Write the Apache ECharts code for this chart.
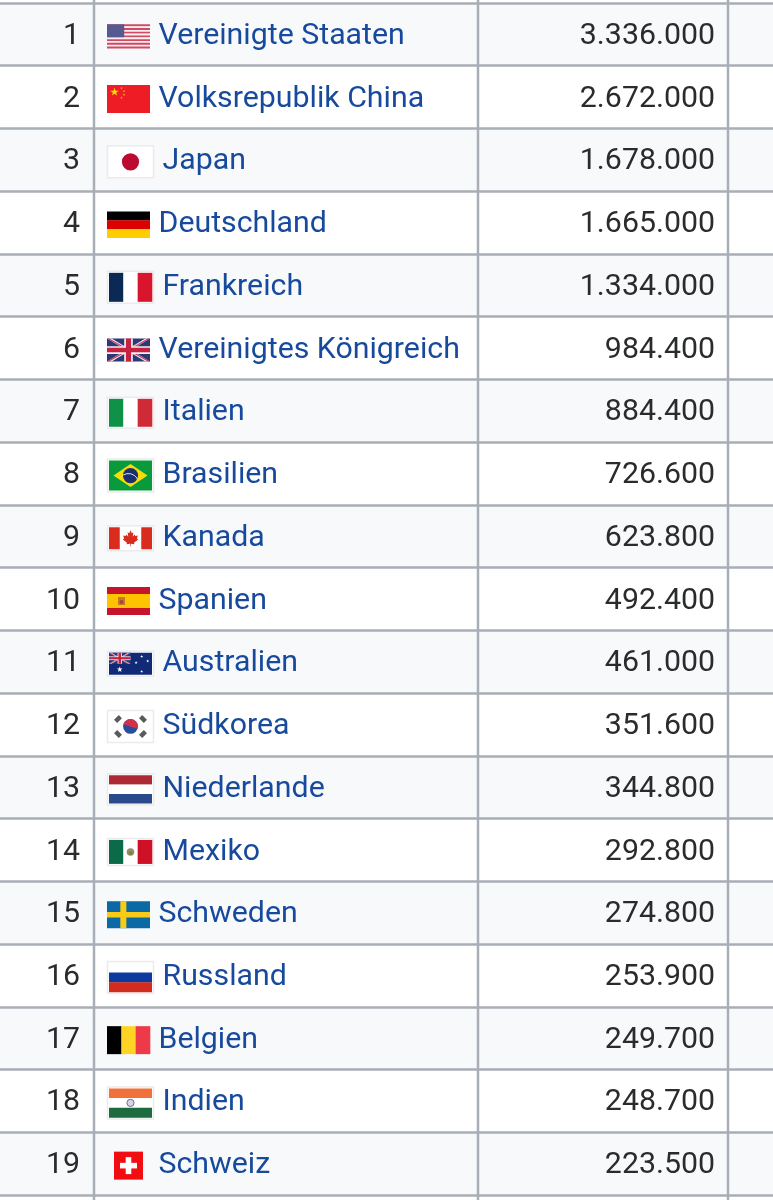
<!DOCTYPE html>
<html>
<head>
<meta charset="utf-8">
<title>BIP Tabelle</title>
<style>
    html, body { margin: 0; padding: 0; background: #fff; }
    #main { width: 773px; height: 1200px; }
</style>
<script src="https://cdn.jsdelivr.net/npm/echarts@6/dist/echarts.min.js"></script>
</head>
<body>
<div id="main"></div>
<script>
// table content
var ranks = [1, 2, 3, 4, 5, 6, 7, 8, 9, 10, 11, 12, 13, 14, 15, 16, 17, 18, 19];
var countries = ['Vereinigte Staaten', 'Volksrepublik China', 'Japan', 'Deutschland', 'Frankreich',
    'Vereinigtes Königreich', 'Italien', 'Brasilien', 'Kanada', 'Spanien', 'Australien', 'Südkorea',
    'Niederlande', 'Mexiko', 'Schweden', 'Russland', 'Belgien', 'Indien', 'Schweiz'];
var flagCodes = ['us', 'cn', 'jp', 'de', 'fr', 'gb', 'it', 'br', 'ca', 'es', 'au', 'kr', 'nl', 'mx', 'se', 'ru', 'be', 'in', 'ch'];
var gdpValues = [3336000, 2672000, 1678000, 1665000, 1334000, 984400, 884400, 726600, 623800, 492400,
    461000, 351600, 344800, 292800, 274800, 253900, 249700, 248700, 223500];

// column borders, on the x axis
var columnLines = [94, 478, 728];

// flag boxes: x, width, height, text x, light border
var flagBoxes = {
    us: [107, 43, 24, 158.5, false], cn: [107, 43, 28, 158.5, false], jp: [109, 43, 29, 162.5, true],
    de: [107, 43, 26, 158.5, false], fr: [109, 43, 29, 162.5, true], gb: [107, 43, 23, 158.5, false],
    it: [109, 43, 28, 162.5, true], br: [109, 43, 30, 162.5, true], ca: [109, 43, 22, 162.5, true],
    es: [107, 43, 28, 158.5, false], au: [109, 43, 22, 162.5, true], kr: [109, 43, 29, 162.5, true],
    nl: [109, 43, 28, 162.5, true], mx: [109, 43, 24, 162.5, true], se: [107, 43, 27, 158.5, false],
    ru: [109, 43, 29, 162.5, true], be: [107, 43, 28, 158.5, false], in: [109, 43, 29, 162.5, true],
    ch: [114, 29, 28, 158.5, false]
};

var FONT = 'Roboto, sans-serif';
var TEXT_SIZE = '30.3px ';
var TEXT_DY = 2;

function formatGerman(v) {
    return String(v).replace(/\B(?=(\d{3})+$)/g, '.');
}

function rect(x, y, w, h, color) {
    return { type: 'rect', shape: { x: x, y: y, width: w, height: h }, style: { fill: color } };
}
function poly(points, color) {
    return { type: 'polygon', shape: { points: points }, style: { fill: color } };
}
function circle(cx, cy, r, color) {
    return { type: 'circle', shape: { cx: cx, cy: cy, r: r }, style: { fill: color } };
}
function star(cx, cy, r, color) {
    var pts = [];
    for (var i = 0; i < 10; i++) {
        var a = -Math.PI / 2 + i * Math.PI / 5;
        var rr = i % 2 ? r * 0.4 : r;
        pts.push([cx + rr * Math.cos(a), cy + rr * Math.sin(a)]);
    }
    return poly(pts, color);
}
function hBands(x, y, w, h, colors) {
    return colors.map(function (c, i) {
        return rect(x, y + h * i / colors.length, w, h / colors.length + 0.3, c);
    });
}
function vBands(x, y, w, h, colors) {
    return colors.map(function (c, i) {
        return rect(x + w * i / colors.length, y, w / colors.length + 0.3, h, c);
    });
}
function unionJack(x, y, w, h) {
    var t = w * 0.11, s = w * 0.05;
    function diag(d, c) {
        return [
            poly([[x, y], [x + d, y], [x + w, y + h], [x + w - d, y + h]], c),
            poly([[x + w, y], [x + w - d, y], [x, y + h], [x + d, y + h]], c)
        ];
    }
    return [rect(x, y, w, h, '#2a3a78')]
        .concat(diag(t, '#f1e3e8'))
        .concat(diag(s, '#c8324f'))
        .concat([
            rect(x + w / 2 - w * 0.1, y, w * 0.2, h, '#f4eef0'),
            rect(x, y + h / 2 - h * 0.17, w, h * 0.34, '#f4eef0'),
            rect(x + w / 2 - w * 0.06, y, w * 0.12, h, '#c8213f'),
            rect(x, y + h / 2 - h * 0.1, w, h * 0.2, '#c8213f')
        ]);
}
// rough maple leaf, unit box
var mapleLeaf = [[0.5, 0], [0.58, 0.18], [0.68, 0.12], [0.64, 0.4], [0.76, 0.27], [0.8, 0.36], [0.96, 0.32],
    [0.9, 0.52], [0.98, 0.58], [0.72, 0.78], [0.75, 0.88], [0.52, 0.84], [0.52, 1], [0.48, 1], [0.48, 0.84],
    [0.25, 0.88], [0.28, 0.78], [0.02, 0.58], [0.1, 0.52], [0.04, 0.32], [0.2, 0.36], [0.24, 0.27], [0.36, 0.4],
    [0.32, 0.12], [0.42, 0.18]];

function flagShapes(code, x, y, w, h) {
    var cx = x + w / 2, cy = y + h / 2, out = [], i;
    switch (code) {
        case 'us':
            for (i = 0; i < 13; i++) {
                out.push(rect(x, y + h * i / 13, w, h / 13 + 0.2, i % 2 ? '#f6eef0' : '#cf4a62'));
            }
            out.push(rect(x, y, w * 0.4, h * 7 / 13, '#565a8f'));
            break;
        case 'cn':
            out.push(rect(x, y, w, h, '#ee1c25'));
            out.push(star(x + 7.5, y + 7, 4.3, '#ffde00'));
            out.push(star(x + 14.5, y + 3, 1.4, '#f7b21a'), star(x + 17, y + 6, 1.4, '#f7b21a'));
            out.push(star(x + 17, y + 9.5, 1.4, '#f7b21a'), star(x + 14.5, y + 12.5, 1.4, '#f7b21a'));
            break;
        case 'jp':
            out.push(rect(x, y, w, h, '#ffffff'), circle(cx, cy, 8.6, '#bc0b32'));
            break;
        case 'de':
            out = hBands(x, y, w, h, ['#000000', '#dd0000', '#ffce00']);
            break;
        case 'fr':
            out = vBands(x, y, w, h, ['#0a2a55', '#ffffff', '#d9152e']);
            break;
        case 'gb':
            out = unionJack(x, y, w, h);
            break;
        case 'it':
            out = vBands(x, y, w, h, ['#0f9248', '#ffffff', '#cf2b37']);
            break;
        case 'br':
            out.push(rect(x, y, w, h, '#099a3b'));
            out.push(poly([[x + 4.5, cy], [cx, y + 3.5], [x + w - 4.5, cy], [cx, y + h - 3.5]], '#f5dc0a'));
            out.push(circle(cx, cy, 7.6, '#1b2f6e'));
            out.push({ type: 'arc', shape: { cx: cx - 2, cy: cy + 8, r: 10, startAngle: -Math.PI * 0.8, endAngle: -Math.PI * 0.15 }, style: { stroke: '#d8dfe8', lineWidth: 1, fill: null } });
            break;
        case 'ca':
            out = [rect(x, y, w, h, '#ffffff'), rect(x, y, w * 0.25, h, '#d92b1e'), rect(x + w * 0.75, y, w * 0.25, h, '#d92b1e')];
            out.push(poly(mapleLeaf.map(function (p) {
                return [cx - 8 + p[0] * 16, y + 3 + p[1] * 16];
            }), '#d92b1e'));
            break;
        case 'es':
            out = [rect(x, y, w, h, '#ffc400'), rect(x, y, w, h * 0.25, '#c8142b'), rect(x, y + h * 0.75, w, h * 0.25, '#c8142b')];
            out.push(rect(x + 11, cy - 4, 7, 8, '#bf7a2a'), circle(x + 14.5, cy + 1, 2, '#b8412c'));
            break;
        case 'au':
            out.push(rect(x, y, w, h, '#102a78'));
            out = out.concat(unionJack(x, y, w * 0.5, h * 0.5));
            out.push(star(x + w * 0.25, y + h * 0.76, 3, '#ffffff'));
            out.push(star(x + w * 0.76, y + h * 0.17, 1.6, '#ffffff'), star(x + w * 0.76, y + h * 0.85, 1.6, '#ffffff'));
            out.push(star(x + w * 0.63, y + h * 0.45, 1.6, '#ffffff'), star(x + w * 0.9, y + h * 0.38, 1.6, '#ffffff'));
            break;
        case 'kr':
            out.push(rect(x, y, w, h, '#ffffff'));
            out.push(circle(cx, cy, 7.4, '#2a4d9b'));
            out.push({ type: 'sector', shape: { cx: cx, cy: cy, r: 7.4, r0: 0, startAngle: Math.PI * 1.1, endAngle: Math.PI * 2.1 }, style: { fill: '#d5304a' } });
            [[-12.5, -7.5, 1], [12.5, -7.5, -1], [-12.5, 7.5, -1], [12.5, 7.5, 1]].forEach(function (t) {
                out.push({ type: 'rect', x: cx + t[0], y: cy + t[1], originX: 0, originY: 0, rotation: -t[2] * Math.PI / 4 * -1,
                    shape: { x: -3.4, y: -2.2, width: 6.8, height: 4.4 }, style: { fill: '#5a5a5c' } });
            });
            break;
        case 'nl':
            out = hBands(x, y, w, h, ['#ad2a35', '#ffffff', '#2b4a8c']);
            break;
        case 'mx':
            out = vBands(x, y, w, h, ['#0b6a48', '#ffffff', '#ce1126']);
            out.push(circle(cx, cy, 3.8, '#9c8a62'), circle(cx, cy + 1, 1.8, '#5f8a58'));
            break;
        case 'se':
            out.push(rect(x, y, w, h, '#0b6aa6'));
            out.push(rect(x + w * 0.31, y, w * 0.14, h, '#f9cb16'), rect(x, cy - h * 0.1, w, h * 0.2, '#f9cb16'));
            break;
        case 'ru':
            out = hBands(x, y, w, h, ['#ffffff', '#0d3aa0', '#d22c20']);
            break;
        case 'be':
            out = vBands(x, y, w, h, ['#000000', '#fdd426', '#ee3a48']);
            break;
        case 'in':
            out = hBands(x, y, w, h, ['#f2703a', '#ffffff', '#1d6b3e']);
            out.push({ type: 'circle', shape: { cx: cx, cy: cy, r: 3.6 }, style: { fill: '#d5d6e4', stroke: '#6d6f9c', lineWidth: 1 } });
            break;
        case 'ch':
            out.push(rect(x, y, w, h, '#f20d12'));
            out.push(rect(cx - 2.8, cy - 8.5, 5.6, 17, '#ffffff'), rect(cx - 8.5, cy - 2.8, 17, 5.6, '#ffffff'));
            break;
    }
    return out;
}

function renderRow(params, api) {
    var i = api.value(0);
    var cy = api.coord([0, i])[1];
    var code = flagCodes[i];
    var box = flagBoxes[code];
    var fx = api.coord([box[0], i])[0];
    var fy = cy + 2 - box[2] / 2;
    var children = [];

    children.push({
        type: 'text',
        style: { text: String(ranks[i]), x: api.coord([80, i])[0], y: cy + TEXT_DY, align: 'right', verticalAlign: 'middle', font: TEXT_SIZE + FONT, fill: '#2a2b2d' }
    });
    if (box[4]) {
        children.push({ type: 'rect', shape: { x: fx - 1.5, y: fy - 1.5, width: box[1] + 3, height: box[2] + 3 }, style: { fill: '#fff', stroke: '#e9ebef', lineWidth: 1.5 } });
    }
    children = children.concat(flagShapes(code, fx, fy, box[1], box[2]));
    children.push({
        type: 'text',
        style: { text: countries[i], x: api.coord([box[3], i])[0], y: cy + TEXT_DY, align: 'left', verticalAlign: 'middle', font: TEXT_SIZE + FONT, fill: '#174a9c' }
    });
    children.push({
        type: 'text',
        style: { text: formatGerman(gdpValues[i]), x: api.coord([715, i])[0], y: cy + TEXT_DY, align: 'right', verticalAlign: 'middle', font: TEXT_SIZE + FONT, fill: '#2a2b2d' }
    });
    return { type: 'group', children: children };
}

function renderColumnLine(params, api) {
    var x = api.coord([api.value(0), 0])[0];
    return {
        type: 'line',
        shape: { x1: x, y1: 0, x2: x, y2: api.getHeight() },
        style: { stroke: '#a8aeb6', lineWidth: 2.5 }
    };
}

var chart = echarts.init(document.getElementById('main'));
chart.setOption({
    animation: false,
    backgroundColor: '#ffffff',
    grid: { left: 0, right: 0, top: 3, bottom: 5, containLabel: false },
    xAxis: { type: 'value', min: 0, max: 773, show: false, splitLine: { show: false } },
    yAxis: {
        type: 'category',
        inverse: true,
        data: ranks,
        axisLine: { show: false },
        axisTick: { show: false },
        axisLabel: { show: false },
        splitArea: { show: true, interval: 0, areaStyle: { color: ['#f8f9fb', '#ffffff'] } },
        splitLine: { show: true, interval: 0, lineStyle: { color: '#a8aeb6', width: 2.5 } }
    },
    series: [
        {
            type: 'custom',
            clip: false,
            silent: true,
            renderItem: renderRow,
            data: ranks.map(function (r, i) { return [i]; }),
            encode: { y: 0 }
        },
        {
            type: 'custom',
            clip: false,
            silent: true,
            renderItem: renderColumnLine,
            data: columnLines.map(function (x) { return [x]; }),
            encode: { x: 0 }
        }
    ]
});
</script>
</body>
</html>
